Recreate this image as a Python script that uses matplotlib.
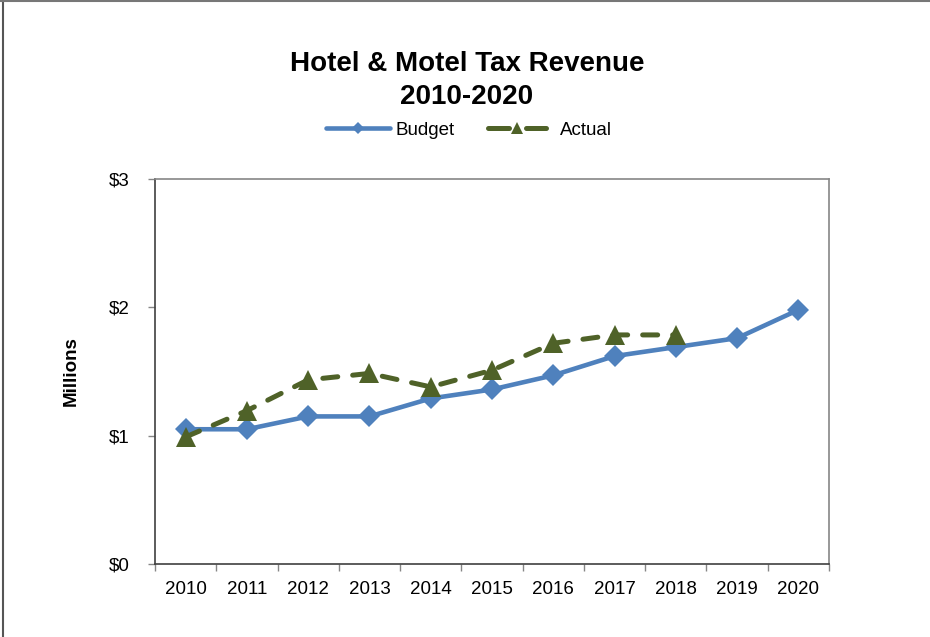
import matplotlib
matplotlib.use("Agg")
import matplotlib.pyplot as plt
from matplotlib.lines import Line2D

years = ["2010", "2011", "2012", "2013", "2014", "2015", "2016", "2017", "2018", "2019", "2020"]
budget = [1.05, 1.05, 1.15, 1.15, 1.29, 1.36, 1.47, 1.62, 1.69, 1.76, 1.98]
actual = [0.99, 1.195, 1.435, 1.485, 1.38, 1.51, 1.72, 1.785, 1.785]
yticks = [0, 1, 2, 3]
ytick_labels = ["$0", "$1", "$2", "$3"]

plt.rcParams['font.family'] = ['Liberation Sans', 'DejaVu Sans']

BLUE = "#4F81BD"
GREEN = "#4F6228"
SPINE = "#868686"

fig = plt.figure(figsize=(9.3, 6.37), dpi=100)
ax = fig.add_axes([155/930, 1 - 564/637, (829-155)/930, (564-179)/637])

x_b = list(range(len(budget)))
x_a = list(range(len(actual)))
ax.plot(x_b, budget, color=BLUE, lw=3.3, marker='D', markersize=11.5,
        markeredgewidth=0, zorder=3, solid_joinstyle='round', solid_capstyle='round')
ax.plot(x_a, actual, color=GREEN, lw=3.6, linestyle=(0, (3.0, 3.0)),
        dash_capstyle='round', marker='^', markersize=15, markeredgewidth=0, zorder=4)

ax.set_xlim(-0.5, len(years) - 0.5)
ax.set_ylim(0, 3)
ax.set_yticks(yticks)
ax.set_yticklabels(ytick_labels)
ax.set_xticks(range(len(years)))
ax.set_xticklabels(years)
ax.set_xticks([i - 0.5 for i in range(len(years) + 1)], minor=True)
ax.tick_params(axis='x', which='major', length=0, pad=12, labelsize=13.5)
ax.tick_params(axis='x', which='minor', length=5, width=1, color=SPINE, direction='out')
ax.tick_params(axis='y', which='major', length=5, width=1, color=SPINE, direction='out',
               pad=13, labelsize=13.5)
for s in ax.spines.values():
    s.set_color(SPINE)
    s.set_linewidth(1.2)
ax.spines['left'].set_color('#404040')
ax.spines['bottom'].set_color('#404040')

fig.text(71/930, 1 - 371.5/637, "Millions", rotation=90, ha='center', va='center',
         fontsize=13.5, fontweight='bold')

fig.text(467/930, 1 - 64/637, "Hotel & Motel Tax Revenue", ha='center', va='center',
         fontsize=20, fontweight='bold')
fig.text(467/930, 1 - 97/637, "2010-2020", ha='center', va='center',
         fontsize=20, fontweight='bold')

h_budget = Line2D([], [], color=BLUE, lw=3.3, marker='D', markersize=6, markeredgewidth=0,
                  solid_capstyle='round')
h_actual = Line2D([], [], color=GREEN, lw=3.6, linestyle=(0, (4.2, 3.4)), dash_capstyle='round',
                  marker='^', markersize=9, markeredgewidth=0)
leg1 = fig.legend([h_budget], ["Budget"], loc='center left',
                  bbox_to_anchor=(326/930, 1 - 130/637), frameon=False, fontsize=13.5,
                  handlelength=3.4, handletextpad=0.3, borderpad=0, borderaxespad=0)
leg2 = fig.legend([h_actual], ["Actual"], loc='center left',
                  bbox_to_anchor=(488/930, 1 - 130/637), frameon=False, fontsize=13.5,
                  handlelength=3.1, handletextpad=0.75, borderpad=0, borderaxespad=0)

# outer chart border (top and left visible)
fig.add_artist(Line2D([2.5/930, 2.5/930], [0, 1], transform=fig.transFigure, color='#555555', lw=1.5))
fig.add_artist(Line2D([0, 1], [1 - 1/637, 1 - 1/637], transform=fig.transFigure, color='#777777', lw=1.5))

fig.savefig("out.png", dpi=100)
